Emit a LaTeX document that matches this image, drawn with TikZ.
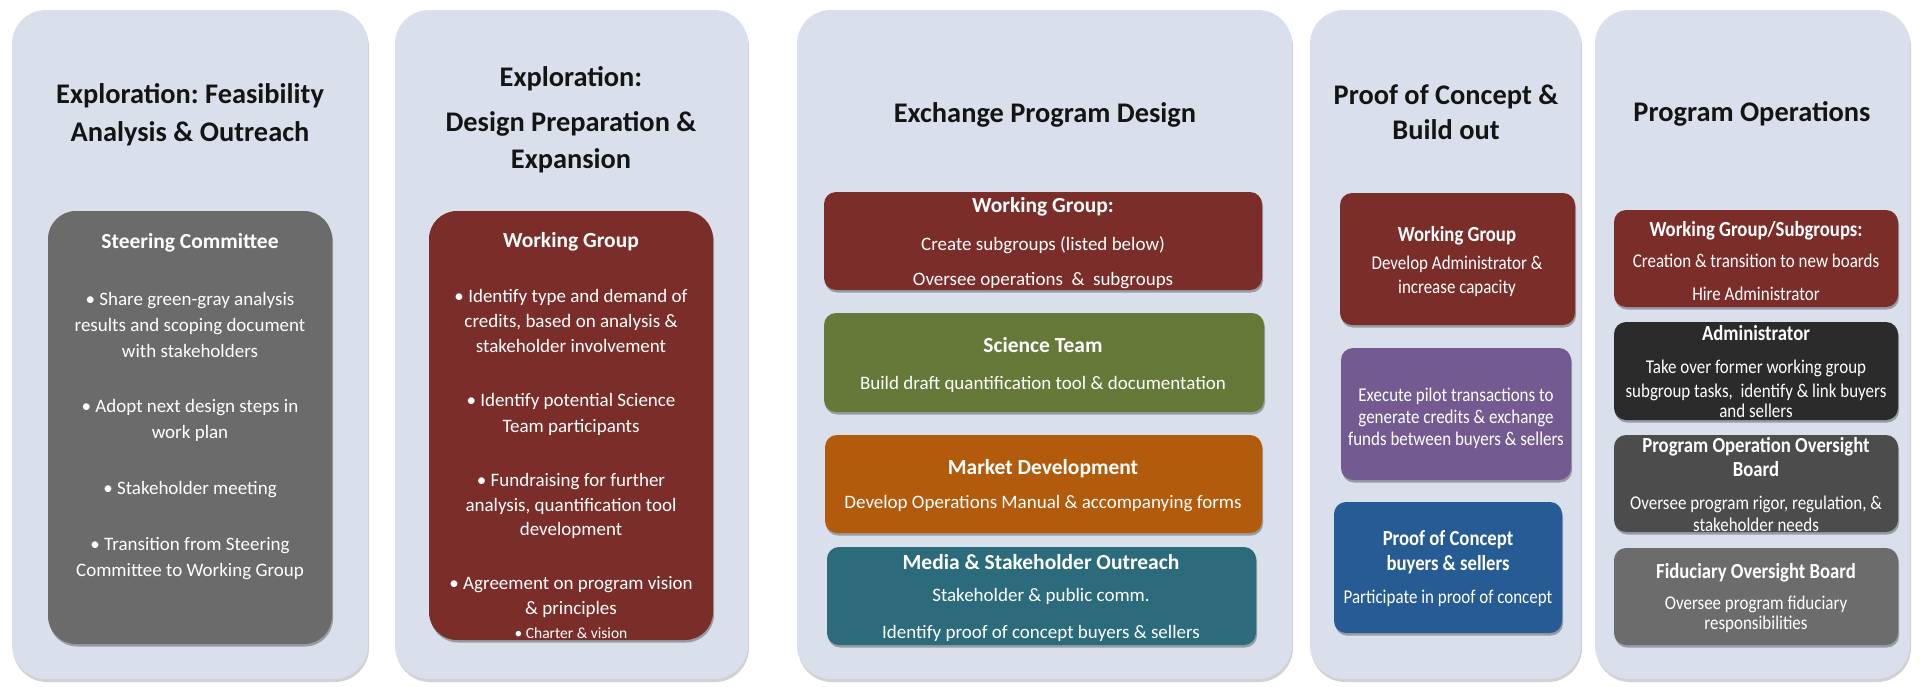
\documentclass[tikz,border=0pt]{standalone}
\usepackage{fontspec}
\setmainfont{Carlito}
\newfontfamily\cndfont[FakeStretch=0.87]{Carlito}
\usetikzlibrary{shadows,fit}
\frenchspacing

\definecolor{panelbg}{HTML}{D9E0EC}
\definecolor{titlecol}{HTML}{141414}
\definecolor{steergray}{HTML}{6B6B6B}
\definecolor{maroon}{HTML}{7B2E29}
\definecolor{sgreen}{HTML}{657A39}
\definecolor{morange}{HTML}{B35B0C}
\definecolor{mteal}{HTML}{2B6B7B}
\definecolor{ppurple}{HTML}{735A90}
\definecolor{pblue}{HTML}{265B93}
\definecolor{admincol}{HTML}{2B2B2B}
\definecolor{poobcol}{HTML}{4C4C4C}
\definecolor{fiducol}{HTML}{6C6C6C}

\newcommand\ftitle{\fontsize{28.4}{34}\selectfont\bfseries}
\newcommand\fhead{\fontsize{21.5}{26}\selectfont\bfseries}
\newcommand\fbody{\fontsize{19}{23}\selectfont}
\newcommand\fsmall{\fontsize{15.5}{18}\selectfont}
\newcommand\fchead{\cndfont\fontsize{21.5}{26}\selectfont\bfseries}
\newcommand\fcbody{\cndfont\fontsize{19.5}{23}\selectfont}

\tikzset{
  panel/.style={fill=panelbg, draw=none, rounded corners=34pt, inner sep=0pt,
    drop shadow={shadow xshift=1pt, shadow yshift=-3pt, opacity=0.18, fill=black}},
  bigbox/.style={fill=#1, draw=none, rounded corners=28pt, inner sep=0pt,
    drop shadow={shadow xshift=1pt, shadow yshift=-2.5pt, opacity=0.3, fill=black}},
  box/.style={fill=#1, draw=none, rounded corners=12pt, inner sep=0pt,
    drop shadow={shadow xshift=1pt, shadow yshift=-2.5pt, opacity=0.3, fill=black}},
  ttl/.style={font=\ftitle, text=titlecol, anchor=mid, inner sep=0pt},
  hd/.style={font=\fhead, text=white, anchor=mid, inner sep=0pt},
  bd/.style={font=\fbody, text=white, anchor=mid, inner sep=0pt},
  sml/.style={font=\fsmall, text=white, anchor=mid, inner sep=0pt},
  chd/.style={font=\fchead, text=white, anchor=mid, inner sep=0pt},
  cbd/.style={font=\fcbody, text=white, anchor=mid, inner sep=0pt},
}

\begin{document}
\begin{tikzpicture}[x=1pt,y=-1pt]
\useasboundingbox (0,0) rectangle (1923,686);
\fill[white] (0,0) rectangle (1923,686);

% ---------- panels ----------
\node[panel, fit={(12,10) (368,679)}] (p1) {};
\node[panel, fit={(395,10) (748,679)}] (p2) {};
\node[panel, fit={(797,10) (1292,679)}] (p3) {};
\node[panel, fit={(1310,10) (1581,679)}] (p4) {};
\node[panel, fit={(1595,10) (1910,679)}] (p5) {};

% ---------- titles ----------
\node[ttl] (t1a) at (190,101) {Exploration: Feasibility};
\node[ttl] (t1b) at (190,139) {Analysis \& Outreach};
\node[ttl] (t2a) at (571,84) {Exploration:};
\node[ttl] (t2b) at (571,129) {Design Preparation \&};
\node[ttl] (t2c) at (571,166) {Expansion};
\node[ttl] (t3) at (1045,120) {Exchange Program Design};
\node[ttl] (t4a) at (1446,102) {Proof of Concept \&};
\node[ttl] (t4b) at (1446,137) {Build out};
\node[ttl] (t5) at (1752,119) {Program Operations};

% ---------- panel 1 ----------
\node[bigbox=steergray, fit={(48,211) (332,644)}] (sc) {};
\node[hd] (sc0) at (190,246) {Steering Committee};
\node[bd] (sc1) at (190,303) {• Share green-gray analysis};
\node[bd] (sc2) at (190,329) {results and scoping document};
\node[bd] (sc3) at (190,355) {with stakeholders};
\node[bd] (sc4) at (190,410) {• Adopt next design steps in};
\node[bd] (sc5) at (190,436) {work plan};
\node[bd] (sc6) at (190,492) {• Stakeholder meeting};
\node[bd] (sc7) at (190,548) {• Transition from Steering};
\node[bd] (sc8) at (190,574) {Committee to Working Group};

% ---------- panel 2 ----------
\node[bigbox=maroon, fit={(429,211) (713,640)}] (wg2) {};
\node[hd] (wg20) at (571,245) {Working Group};
\node[bd] (wg21) at (571,300) {• Identify type and demand of};
\node[bd] (wg22) at (571,325) {credits, based on analysis \&};
\node[bd] (wg23) at (571,350) {stakeholder involvement};
\node[bd] (wg24) at (571,404) {• Identify potential Science};
\node[bd] (wg25) at (571,430) {Team participants};
\node[bd] (wg26) at (571,484) {• Fundraising for further};
\node[bd] (wg27) at (571,509) {analysis, quantification tool};
\node[bd] (wg28) at (571,533) {development};
\node[bd] (wg29) at (571,587) {• Agreement on program vision};
\node[bd] (wg210) at (571,612) {\& principles};
\node[sml] (wg211) at (571,636) {• Charter \& vision};

% ---------- panel 3 ----------
\node[box=maroon, fit={(824,192) (1262,290)}] (wg3) {};
\node[hd] (wg30) at (1043,210) {Working Group:};
\node[bd] (wg31) at (1043,248) {Create subgroups (listed below)};
\node[bd] (wg32) at (1043,283) {Oversee operations\ \ \&\ \ subgroups};

\node[box=sgreen, fit={(824,313) (1264,412)}] (sci) {};
\node[hd] (sci0) at (1043,350) {Science Team};
\node[bd] (sci1) at (1043,387) {Build draft quantification tool \& documentation};

\node[box=morange, fit={(825,435) (1262,533)}] (mkt) {};
\node[hd] (mkt0) at (1043,472) {Market Development};
\node[bd] (mkt1) at (1043,506) {Develop Operations Manual \& accompanying forms};

\node[box=mteal, fit={(827,547) (1256,645)}] (med) {};
\node[hd] (med0) at (1041,567) {Media \& Stakeholder Outreach};
\node[bd] (med1) at (1041,599) {Stakeholder \& public comm.};
\node[bd] (med2) at (1041,636) {Identify proof of concept buyers \& sellers};

% ---------- panel 4 ----------
\node[box=maroon, fit={(1340,193) (1575,325)}] (wg4) {};
\node[chd] (wg40) at (1457,239) {Working Group};
\node[cbd] (wg41) at (1457,267) {Develop Administrator \&};
\node[cbd] (wg42) at (1457,291) {increase capacity};

\node[box=ppurple, fit={(1341,348) (1571,480)}] (pil) {};
\node[cbd] (pil1) at (1456,399) {Execute pilot transactions to};
\node[cbd] (pil2) at (1456,421) {generate credits \& exchange};
\node[cbd] (pil3) at (1456,443) {funds between buyers \& sellers};

\node[box=pblue, fit={(1334,502) (1562,633)}] (poc) {};
\node[chd] (poc0) at (1448,543) {Proof of Concept};
\node[chd] (poc1) at (1448,568) {buyers \& sellers};
\node[cbd] (poc2) at (1448,601) {Participate in proof of concept};

% ---------- panel 5 ----------
\node[box=maroon, fit={(1614,210) (1898,307)}] (wg5) {};
\node[chd] (wg50) at (1756,234) {Working Group/Subgroups:};
\node[cbd] (wg51) at (1756,265) {Creation \& transition to new boards};
\node[cbd] (wg52) at (1756,298) {Hire Administrator};

\node[box=admincol, fit={(1614,322) (1898,420)}] (adm) {};
\node[chd] (adm0) at (1756,338) {Administrator};
\node[cbd] (adm1) at (1756,371) {Take over former working group};
\node[cbd] (adm2) at (1756,395) {subgroup tasks,\ \ identify \& link buyers};
\node[cbd] (adm3) at (1756,415) {and sellers};

\node[box=poobcol, fit={(1614,435) (1898,532)}] (poob) {};
\node[chd] (poob0) at (1756,450) {Program Operation Oversight};
\node[chd] (poob1) at (1756,474) {Board};
\node[cbd] (poob2) at (1756,507) {Oversee program rigor, regulation, \&};
\node[cbd] (poob3) at (1756,529) {stakeholder needs};

\node[box=fiducol, fit={(1614,548) (1898,645)}] (fid) {};
\node[chd] (fid0) at (1756,576) {Fiduciary Oversight Board};
\node[cbd] (fid1) at (1756,607) {Oversee program fiduciary};
\node[cbd] (fid2) at (1756,627) {responsibilities};
\end{tikzpicture}
\end{document}
